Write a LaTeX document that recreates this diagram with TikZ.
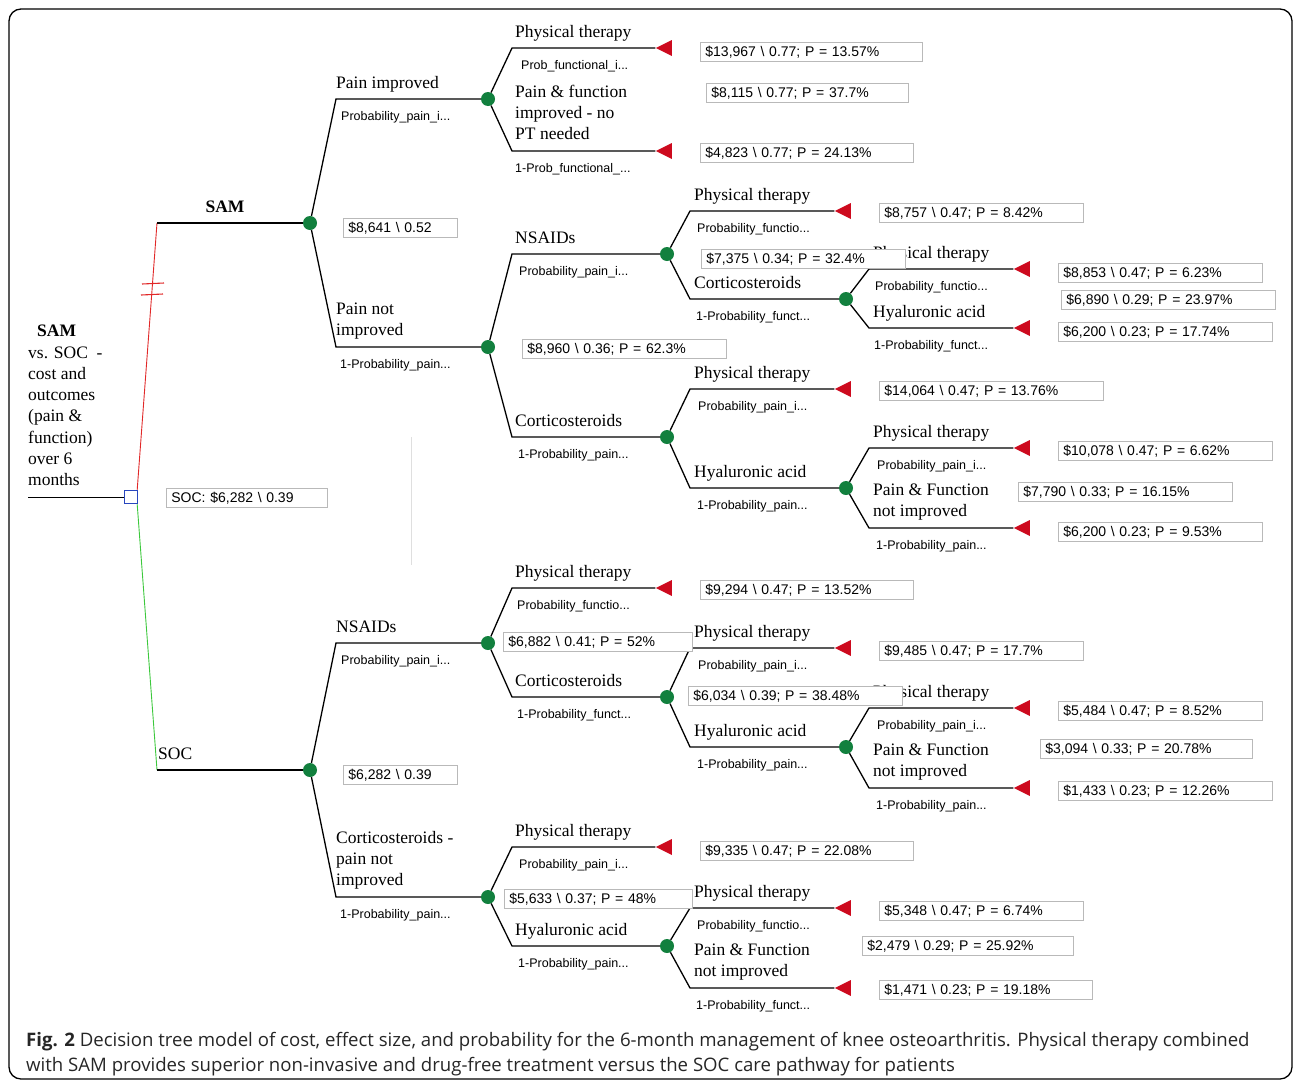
\documentclass[tikz,border=0pt]{standalone}
\usepackage{fontspec}
\setmainfont{Liberation Serif}
\newfontfamily\arialfont{Liberation Sans}
\newfontfamily\figcapfont{Open Sans}
\usetikzlibrary{shapes.geometric}
\definecolor{chancegreen}{RGB}{18,128,62}
\definecolor{termred}{RGB}{205,10,30}
\definecolor{decblue}{RGB}{40,70,190}
\definecolor{samred}{RGB}{225,40,40}
\definecolor{socgreen}{RGB}{60,200,60}
\newcommand\lblfont{\fontsize{17.5}{21.3}\selectfont}
\newcommand\probfont{\arialfont\fontsize{12.5}{15}\selectfont}
\newcommand\valfont{\arialfont\fontsize{14}{16}\selectfont}
\begin{document}
\begin{tikzpicture}[x=1pt,y=-1pt,
  branch/.style={line width=1.3pt},
  chance/.style={circle,fill=chancegreen,inner sep=0pt,minimum size=14pt},
  term/.style={isosceles triangle,isosceles triangle stretches,shape border rotate=180,fill=termred,inner sep=0pt,minimum width=16pt,minimum height=16pt},
  decision/.style={rectangle,draw=decblue,line width=1.4pt,fill=white,inner sep=0pt,minimum size=13pt},
  lbl/.style={font=\lblfont,anchor=south west,inner sep=0pt,text depth=0pt,align=left},
  prob/.style={font=\probfont,anchor=base west,inner sep=0pt},
  val/.style={draw=gray!55,line width=0.8pt,fill=white,font=\valfont,anchor=north west,inner xsep=5pt,inner ysep=0pt,minimum height=19pt,align=left,text width=#1},
  caption/.style={anchor=base west,inner sep=0pt,text=black!85,font=\figcapfont\fontsize{18.6}{22}\selectfont}]
\useasboundingbox (0,0) rectangle (1295,1082);
\draw[line width=1.3pt,rounded corners=12pt] (9,9) rectangle (1292,1079);

\node[decision] (dec) at (131,497) {};
\coordinate (root) at (28,497);
\coordinate (samk) at (157,223);
\coordinate (sock) at (157,770);
\draw[line width=0.9pt] (root) -- (dec);
\draw[samred,line width=0.9pt] ([xshift=-1pt]dec.north east) -- (samk);
\draw[socgreen,line width=0.9pt] ([xshift=-1pt]dec.south east) -- (sock);
\draw[samred,line width=1.1pt] (142,284) -- (164,283) (141,295) -- (163,294);
\draw[gray!25] (411,437) -- (411,565);

\node[chance] (c1) at (310,223) {};
\node[chance] (c2) at (488,99) {};
\node[chance] (c3) at (488,347) {};
\node[chance] (c4) at (667,254) {};
\node[chance] (c5) at (846,299) {};
\node[chance] (c6) at (667,437) {};
\node[chance] (c7) at (846,488) {};
\node[chance] (c8) at (310,770) {};
\node[chance] (c9) at (488,643) {};
\node[chance] (c10) at (667,697) {};
\node[chance] (c11) at (846,747) {};
\node[chance] (c12) at (488,897) {};
\node[chance] (c13) at (667,946) {};

\node[term] (t1) at (667,48) {};
\node[term] (t2) at (667,151) {};
\node[term] (t3) at (846,211) {};
\node[term] (t4) at (1025,269) {};
\node[term] (t5) at (1025,328) {};
\node[term] (t6) at (846,389) {};
\node[term] (t7) at (1025,448) {};
\node[term] (t8) at (1025,528) {};
\node[term] (t9) at (667,588) {};
\node[term] (t10) at (846,648) {};
\node[term] (t11) at (1025,708) {};
\node[term] (t12) at (1025,788) {};
\node[term] (t13) at (667,847) {};
\node[term] (t14) at (846,908) {};
\node[term] (t15) at (846,988) {};

\draw[branch] (samk) -- (c1);
\draw[branch] (sock) -- (c8);
\draw[branch] (c1) -- (336,99) -- (c2);
\draw[branch] (c1) -- (336,347) -- (c3);
\draw[branch] (c2) -- (512,48) -- (t1);
\draw[branch] (c2) -- (512,151) -- (t2);
\draw[branch] (c3) -- (512,254) -- (c4);
\draw[branch] (c3) -- (512,437) -- (c6);
\draw[branch] (c4) -- (690,211) -- (t3);
\draw[branch] (c4) -- (690,299) -- (c5);
\draw[branch] (c5) -- (869,269) -- (t4);
\draw[branch] (c5) -- (869,328) -- (t5);
\draw[branch] (c6) -- (690,389) -- (t6);
\draw[branch] (c6) -- (690,488) -- (c7);
\draw[branch] (c7) -- (869,448) -- (t7);
\draw[branch] (c7) -- (869,528) -- (t8);
\draw[branch] (c8) -- (336,643) -- (c9);
\draw[branch] (c8) -- (336,897) -- (c12);
\draw[branch] (c9) -- (512,588) -- (t9);
\draw[branch] (c9) -- (512,697) -- (c10);
\draw[branch] (c10) -- (690,648) -- (t10);
\draw[branch] (c10) -- (690,747) -- (c11);
\draw[branch] (c11) -- (869,708) -- (t11);
\draw[branch] (c11) -- (869,788) -- (t12);
\draw[branch] (c12) -- (512,847) -- (t13);
\draw[branch] (c12) -- (512,946) -- (c13);
\draw[branch] (c13) -- (690,908) -- (t14);
\draw[branch] (c13) -- (690,988) -- (t15);

\node[lbl] (title) at (28,486) {\hspace*{9pt}\textbf{SAM}\\vs. SOC~~-\\cost and\\outcomes\\(pain \&\\function)\\over 6\\months};
\node[lbl,anchor=south,font=\lblfont\bfseries] (samlbl) at (225,212.5) {SAM};
\node[lbl] (soclbl) at (158,759.5) {SOC};
\node[lbl] (l1) at (336,88.5) {Pain improved};
\node[lbl] (l2) at (336,336) {Pain not\\improved};
\node[lbl] (l3) at (515,37.5) {Physical therapy};
\node[lbl] (l4) at (515,140) {Pain \& function\\improved - no\\PT needed};
\node[lbl] (l5) at (515,243.5) {NSAIDs};
\node[lbl] (l6) at (515,426.5) {Corticosteroids};
\node[lbl] (l7) at (694,200.5) {Physical therapy};
\node[lbl] (l8) at (694,288.5) {Corticosteroids};
\node[lbl] (l9) at (873,258.5) {Physical therapy};
\node[lbl] (l10) at (873,317.5) {Hyaluronic acid};
\node[lbl] (l11) at (694,378.5) {Physical therapy};
\node[lbl] (l12) at (694,477.5) {Hyaluronic acid};
\node[lbl] (l13) at (873,437.5) {Physical therapy};
\node[lbl] (l14) at (873,517) {Pain \& Function\\not improved};
\node[lbl] (l15) at (336,632.5) {NSAIDs};
\node[lbl] (l16) at (336,886) {Corticosteroids -\\pain not\\improved};
\node[lbl] (l17) at (515,577.5) {Physical therapy};
\node[lbl] (l18) at (515,686.5) {Corticosteroids};
\node[lbl] (l19) at (694,637.5) {Physical therapy};
\node[lbl] (l20) at (694,736.5) {Hyaluronic acid};
\node[lbl] (l21) at (873,697.5) {Physical therapy};
\node[lbl] (l22) at (873,777) {Pain \& Function\\not improved};
\node[lbl] (l23) at (515,836.5) {Physical therapy};
\node[lbl] (l24) at (515,935.5) {Hyaluronic acid};
\node[lbl] (l25) at (694,897.5) {Physical therapy};
\node[lbl] (l26) at (694,977) {Pain \& Function\\not improved};

\node[prob] (p1) at (341,120) {Probability\_pain\_i...};
\node[prob] (p2) at (340,368) {1-Probability\_pain...};
\node[prob] (p3) at (521,69) {Prob\_functional\_i...};
\node[prob] (p4) at (515,172) {1-Prob\_functional\_...};
\node[prob] (p5) at (519,275) {Probability\_pain\_i...};
\node[prob] (p6) at (518,458) {1-Probability\_pain...};
\node[prob] (p7) at (697,232) {Probability\_functio...};
\node[prob] (p8) at (696,320) {1-Probability\_funct...};
\node[prob] (p9) at (875,290) {Probability\_functio...};
\node[prob] (p10) at (874,349) {1-Probability\_funct...};
\node[prob] (p11) at (698,410) {Probability\_pain\_i...};
\node[prob] (p12) at (697,509) {1-Probability\_pain...};
\node[prob] (p13) at (877,469) {Probability\_pain\_i...};
\node[prob] (p14) at (876,549) {1-Probability\_pain...};
\node[prob] (p15) at (341,664) {Probability\_pain\_i...};
\node[prob] (p16) at (340,918) {1-Probability\_pain...};
\node[prob] (p17) at (517,609) {Probability\_functio...};
\node[prob] (p18) at (517,718) {1-Probability\_funct...};
\node[prob] (p19) at (698,669) {Probability\_pain\_i...};
\node[prob] (p20) at (697,768) {1-Probability\_pain...};
\node[prob] (p21) at (877,729) {Probability\_pain\_i...};
\node[prob] (p22) at (876,809) {1-Probability\_pain...};
\node[prob] (p23) at (519,868) {Probability\_pain\_i...};
\node[prob] (p24) at (518,967) {1-Probability\_pain...};
\node[prob] (p25) at (697,929) {Probability\_functio...};
\node[prob] (p26) at (696,1009) {1-Probability\_funct...};

\node[val=151pt] (v0) at (166,488) {SOC: \$6,282 \textbackslash{} 0.39};
\node[val=104pt] (v1) at (343,218) {\$8,641 \textbackslash{} 0.52};
\node[val=212pt] (v2) at (700,42) {\$13,967 \textbackslash{} 0.77; P = 13.57\%};
\node[val=192pt] (v3) at (706,83) {\$8,115 \textbackslash{} 0.77; P = 37.7\%};
\node[val=203pt] (v4) at (700,143) {\$4,823 \textbackslash{} 0.77; P = 24.13\%};
\node[val=194pt] (v5) at (522,339) {\$8,960 \textbackslash{} 0.36; P = 62.3\%};
\node[val=194pt] (v6) at (879,203) {\$8,757 \textbackslash{} 0.47; P = 8.42\%};
\node[val=194pt] (v7) at (701,249) {\$7,375 \textbackslash{} 0.34; P = 32.4\%};
\node[val=194pt] (v8) at (1058,263) {\$8,853 \textbackslash{} 0.47; P = 6.23\%};
\node[val=204pt] (v9) at (1061,290) {\$6,890 \textbackslash{} 0.29; P = 23.97\%};
\node[val=204pt] (v10) at (1058,322) {\$6,200 \textbackslash{} 0.23; P = 17.74\%};
\node[val=214pt] (v11) at (879,381) {\$14,064 \textbackslash{} 0.47; P = 13.76\%};
\node[val=204pt] (v12) at (1058,441) {\$10,078 \textbackslash{} 0.47; P = 6.62\%};
\node[val=204pt] (v13) at (1018,482) {\$7,790 \textbackslash{} 0.33; P = 16.15\%};
\node[val=194pt] (v14) at (1058,522) {\$6,200 \textbackslash{} 0.23; P = 9.53\%};
\node[val=104pt] (v15) at (343,765) {\$6,282 \textbackslash{} 0.39};
\node[val=203pt] (v16) at (700,580) {\$9,294 \textbackslash{} 0.47; P = 13.52\%};
\node[val=179pt] (v17) at (503,632) {\$6,882 \textbackslash{} 0.41; P = 52\%};
\node[val=194pt] (v18) at (879,641) {\$9,485 \textbackslash{} 0.47; P = 17.7\%};
\node[val=204pt] (v19) at (688,686) {\$6,034 \textbackslash{} 0.39; P = 38.48\%};
\node[val=194pt] (v20) at (1058,701) {\$5,484 \textbackslash{} 0.47; P = 8.52\%};
\node[val=202pt] (v21) at (1040,739) {\$3,094 \textbackslash{} 0.33; P = 20.78\%};
\node[val=204pt] (v22) at (1058,781) {\$1,433 \textbackslash{} 0.23; P = 12.26\%};
\node[val=203pt] (v23) at (700,841) {\$9,335 \textbackslash{} 0.47; P = 22.08\%};
\node[val=178pt] (v24) at (504,889) {\$5,633 \textbackslash{} 0.37; P = 48\%};
\node[val=194pt] (v25) at (879,901) {\$5,348 \textbackslash{} 0.47; P = 6.74\%};
\node[val=201pt] (v26) at (862,936) {\$2,479 \textbackslash{} 0.29; P = 25.92\%};
\node[val=203pt] (v27) at (879,980) {\$1,471 \textbackslash{} 0.23; P = 19.18\%};

\node[caption] (cap1) at (26,1046) {\textbf{Fig. 2} Decision tree model of cost, effect size, and probability for the 6-month management of knee osteoarthritis. Physical therapy combined};
\node[caption] (cap2) at (26,1071) {with SAM provides superior non-invasive and drug-free treatment versus the SOC care pathway for patients};
\end{tikzpicture}
\end{document}
